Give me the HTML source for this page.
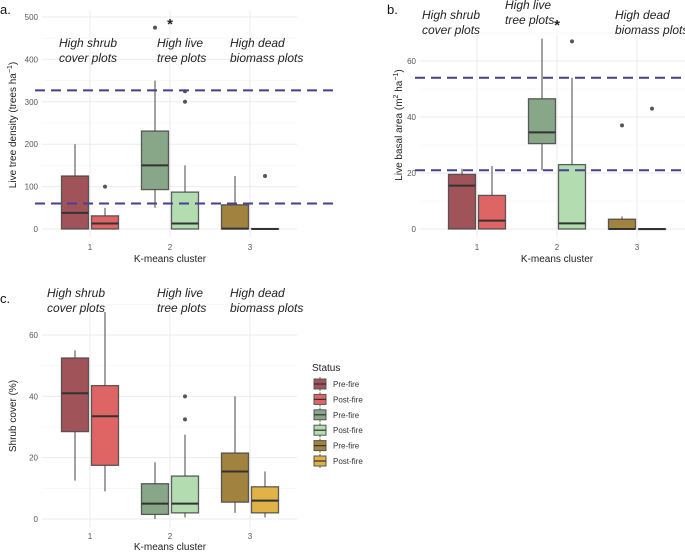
<!DOCTYPE html>
<html><head><meta charset="utf-8">
<style>
html,body{margin:0;padding:0;background:#fff;}
svg{display:block;font-family:"Liberation Sans",sans-serif;}
</style></head>
<body>
<svg id="chart" width="685" height="552" viewBox="0 0 685 552"></svg>
<script>
// ---- data ----
const clusters = ["1","2","3"];
const statusLabels = ["Pre-fire","Post-fire"];
const fillColors = ["#a0545a","#df6565","#88a788","#b3dcb1","#a1833f","#e0b248"];
// each row: [lower whisker, q1, median, q3, upper whisker]
const densityStats = [[0,0,38,125,200],[0,0,13,31,50],[50,93,150,231,350],[0,0,13,87,150],[0,0,1,57,125],[0,0,0,1,1]];
const densityOutliers = [[],[100],[475],[300,325],[],[125]];
const densityRefLines = [327,60];
const densityTicks = [0,100,200,300,400,500];
const basalStats = [[0,0,15.5,19.5,21.5],[0,0,3,12,22.5],[21,30.5,34.5,46.5,68],[0,0,2,23,54],[0,0,0,3.5,4.5],[0,0,0,0,0]];
const basalOutliers = [[],[],[],[67],[37],[43]];
const basalRefLines = [54,21];
const basalTicks = [0,20,40,60];
const shrubStats = [[12.5,28.5,41,52.5,55],[9,17.5,33.5,43.5,67.5],[0,1.5,5,11.5,18.5],[0.5,2,5,14,27.5],[2,5.5,15.5,21.5,40],[0.5,2,6,10.5,15.5]];
const shrubOutliers = [[],[],[],[32.5,40],[],[]];
const shrubTicks = [0,20,40,60];

const NS="http://www.w3.org/2000/svg";
const svg=document.getElementById('chart');
function mk(tag,attrs,parent){const e=document.createElementNS(NS,tag);for(const k in attrs)e.setAttribute(k,attrs[k]);(parent||svg).appendChild(e);return e;}

function panel(cfg){
  const g=mk('g',{});
  
  
  const y=v=>cfg.y0+(v)*(cfg.y1-cfg.y0)/cfg.v1;
  const x=i=>cfg.x1+i*(cfg.xStep);
  // grid
  const step=cfg.ticks[1]-cfg.ticks[0];
  for(let t=cfg.ticks[0];t<=cfg.ticks[cfg.ticks.length-1]+step/2;t+=step/2){
    if(y(t)<cfg.top-2)continue;
    const major=Math.abs(t/step-Math.round(t/step))<1e-6;
    const gl=mk('line',{x1:cfg.left,x2:cfg.right,y1:y(t),y2:y(t),stroke:major?'#ebebeb':'#f3f3f3','stroke-width':major?1:0.6},g);
    
    
  }
  clusters.forEach((c,i)=>{
    const vl=mk('line',{x1:x(i),x2:x(i),y1:cfg.top,y2:cfg.y0+8,stroke:'#ebebeb','stroke-width':1},g);
    
    
    const tl=mk('text',{x:x(i),y:cfg.tickY,'text-anchor':'middle','font-size':8,fill:'#555'},g);
    tl.textContent=c;
    
    
  });
  cfg.ticks.forEach(t=>{
    const tl=mk('text',{x:cfg.left-4,y:y(t)+3,'text-anchor':'end','font-size':8,fill:'#555'},g);
    tl.textContent=t;
    
    
  });
  // boxes
  cfg.stats.forEach((s,k)=>{
    const ci=Math.floor(k/2), off=(k%2===0)?-15:15, cx=x(ci)+off, w=27;
    const bg=mk('g',{},g);
    
    
    mk('line',{x1:cx,x2:cx,y1:y(s[0]),y2:y(s[4]),stroke:'#555','stroke-width':1.1},bg);
    mk('rect',{x:cx-w/2,y:y(s[3]),width:w,height:Math.max(0.5,y(s[1])-y(s[3])),fill:fillColors[k],stroke:'#444','stroke-width':1.3,'stroke-opacity':0.85},bg);
    mk('line',{x1:cx-w/2,x2:cx+w/2,y1:y(s[2]),y2:y(s[2]),stroke:'#333','stroke-width':2},bg);
    cfg.outliers[k].forEach(o=>{
      const d=mk('circle',{cx:cx,cy:y(o),r:2,fill:'#555'},bg);
      
      
    });
  });
  (cfg.refs||[]).forEach(r=>{
    const l=mk('line',{x1:cfg.refX1,x2:cfg.refX2,y1:y(r),y2:y(r),stroke:'#473f96','stroke-width':2,'stroke-dasharray':'10,6'},g);
    
    
  });
  // labels
  cfg.groupLabels.forEach(gl=>{
    gl[2].forEach((line,j)=>{
      const t=mk('text',{x:gl[0],y:gl[1]+j*15,'font-size':12,'font-style':'italic',fill:'#222'},g);
      t.textContent=line;
      
      
    });
  });
  if(cfg.star){const st=mk('text',{x:cfg.star[0],y:cfg.star[1],'font-size':15,'font-weight':'bold',fill:'#222','text-anchor':'middle'},g);st.textContent='*';
    }
  const xt=mk('text',{x:x(1),y:cfg.titleY,'text-anchor':'middle','font-size':10,fill:'#222'},g);
  xt.textContent='K-means cluster';
  
  
  const yt=mk('text',{transform:`translate(${cfg.ytX},${cfg.ytY}) rotate(-90)`,'text-anchor':'middle','font-size':10,fill:'#222'},g);
  yt.innerHTML=cfg.yTitle;
  
  
  const pl=mk('text',{x:cfg.letter[0],y:cfg.letter[1],'font-size':13,fill:'#111'},g);
  pl.textContent=cfg.letter[2];
  
  
}

panel({name:'panel-a-tree-density',x1:90,xStep:80,left:42,right:297,top:10,y0:229,y1:17,v1:500,ticks:densityTicks,
  stats:densityStats,outliers:densityOutliers,refs:densityRefLines,refX1:35,refX2:337,tickY:250,titleY:262,
  ytX:16,ytY:125,yTitle:'Live tree density (trees ha<tspan dy="-4" font-size="7">−1</tspan><tspan dy="4">)</tspan>',
  groupLabels:[[59,47,['High shrub','cover plots']],[157,47,['High live','tree plots']],[230,47,['High dead','biomass plots']]],
  star:[170,29],letter:[0,14,'a.']});
panel({name:'panel-b-basal-area',x1:477,xStep:80,left:420,right:685,top:35,y0:229,y1:61,v1:60,ticks:basalTicks,
  stats:basalStats,outliers:basalOutliers,refs:basalRefLines,refX1:415,refX2:685,tickY:250,titleY:262,
  ytX:402,ytY:125,yTitle:'Live basal area (m<tspan dy="-4" font-size="7">2</tspan><tspan dy="4"> ha</tspan><tspan dy="-4" font-size="7">−1</tspan><tspan dy="4">)</tspan>',
  groupLabels:[[422,19,['High shrub','cover plots']],[505,9,['High live','tree plots']],[615,19,['High dead','biomass plots']]],
  star:[557,30],letter:[387,14,'b.']});
panel({name:'panel-c-shrub-cover',x1:90,xStep:80,left:42,right:297,top:300,y0:519,y1:335,v1:60,ticks:shrubTicks,
  stats:shrubStats,outliers:shrubOutliers,tickY:539,titleY:550,
  ytX:16,ytY:416,yTitle:'Shrub cover (%)',
  groupLabels:[[47,297,['High shrub','cover plots']],[157,297,['High live','tree plots']],[230,297,['High dead','biomass plots']]],
  letter:[0,303,'c.']});

// legend
const lg=mk('g',{});


const lt=mk('text',{x:312,y:371,'font-size':10,fill:'#222'},lg);
lt.textContent='Status';


fillColors.forEach((c,k)=>{
  const cy=384+k*15.4;
  const e=mk('g',{},lg);
  
  
  mk('line',{x1:320,x2:320,y1:cy-7,y2:cy+7,stroke:'#555','stroke-width':1},e);
  mk('rect',{x:314,y:cy-5,width:12,height:10,fill:c,stroke:'#555','stroke-width':1},e);
  mk('line',{x1:314,x2:326,y1:cy,y2:cy,stroke:'#333','stroke-width':1.2},e);
  const t=mk('text',{x:333,y:cy+3,'font-size':8,fill:'#333'},e);
  t.textContent=statusLabels[k%2];
});
</script>
</body></html>
